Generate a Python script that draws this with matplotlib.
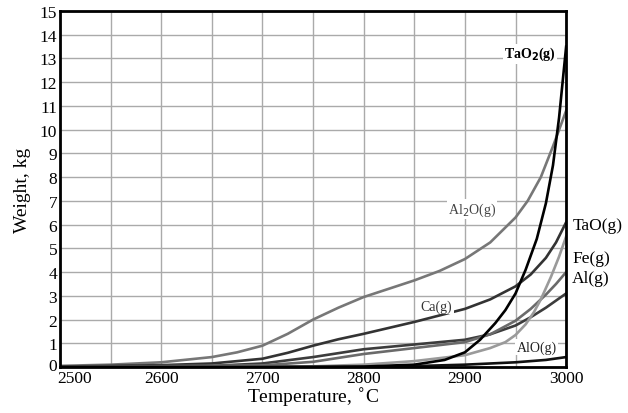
import numpy as np
import matplotlib.pyplot as plt
import matplotlib.transforms as mtransforms

plt.rcParams['font.family'] = 'Liberation Serif'

# temperatures, degC
t_tao2 = [2500, 2700, 2800, 2850, 2880, 2900, 2915, 2930, 2940, 2950, 2960, 2971, 2980, 2987, 2993, 3000]
w_tao2 = [0.0, 0.0, 0.02, 0.1, 0.3, 0.62, 1.15, 1.85, 2.4, 3.1, 4.1, 5.4, 6.9, 8.5, 10.5, 13.5]

t_al2o = [2500, 2550, 2600, 2650, 2675, 2700, 2725, 2750, 2775, 2800, 2825, 2850, 2875, 2900, 2925, 2950, 2962, 2975, 2987, 3000]
w_al2o = [0.05, 0.1, 0.2, 0.42, 0.62, 0.9, 1.4, 2.0, 2.5, 2.95, 3.3, 3.65, 4.05, 4.55, 5.25, 6.3, 7.0, 8.0, 9.3, 10.8]

t_ca = [2500, 2600, 2650, 2700, 2725, 2750, 2775, 2800, 2850, 2900, 2925, 2950, 2965, 2980, 2990, 3000]
w_ca = [0.02, 0.08, 0.15, 0.35, 0.6, 0.9, 1.17, 1.4, 1.9, 2.45, 2.85, 3.4, 3.9, 4.6, 5.25, 6.1]

t_a = [2500, 2650, 2700, 2750, 2800, 2850, 2900, 2925, 2950, 2965, 2980, 2990, 3000]
w_a = [0.01, 0.05, 0.15, 0.42, 0.75, 0.95, 1.15, 1.38, 1.75, 2.1, 2.5, 2.8, 3.1]

t_b = [2500, 2700, 2750, 2800, 2850, 2900, 2925, 2950, 2965, 2980, 2990, 3000]
w_b = [0.01, 0.07, 0.22, 0.55, 0.8, 1.05, 1.38, 1.95, 2.45, 3.05, 3.5, 4.0]

t_fe = [2500, 2750, 2800, 2850, 2900, 2925, 2940, 2950, 2960, 2968, 2975, 2985, 2993, 3000]
w_fe = [0.0, 0.03, 0.1, 0.25, 0.5, 0.8, 1.05, 1.35, 1.8, 2.3, 2.85, 3.8, 4.65, 5.5]

t_alo = [2500, 2800, 2850, 2900, 2950, 2980, 3000]
w_alo = [0.0, 0.0, 0.04, 0.1, 0.2, 0.3, 0.42]

fig = plt.figure(figsize=(6.28, 4.14), dpi=100)
ax = fig.add_axes([0.0955, 0.111, 0.806, 0.86])

ax.plot(t_al2o, w_al2o, color='#777777', lw=1.9)
ax.plot(t_ca, w_ca, color='#333333', lw=1.9)
ax.plot(t_a, w_a, color='#3c3c3c', lw=1.9)
ax.plot(t_b, w_b, color='#6a6a6a', lw=1.9)
ax.plot(t_fe, w_fe, color='#9a9a9a', lw=1.9)
ax.plot(t_alo, w_alo, color='#111111', lw=1.9)
ax.plot(t_tao2, w_tao2, color='#000000', lw=1.9)

ax.set_xlim(2500, 3000)
ax.set_ylim(0, 15)
ax.set_xticks(np.arange(2500, 3001, 50))
ax.set_xticklabels(['2500', '', '2600', '', '2700', '', '2800', '', '2900', '', '3000'])
ax.set_yticks(np.arange(0, 16, 1))
ax.grid(True, color='#aaaaaa', lw=1.0)
ax.tick_params(length=0, labelsize=12.5, pad=2)
for s in ax.spines.values():
    s.set_linewidth(2.0)

# nudge the corner labels apart like in the original
lab0 = ax.get_xticklabels()[0]
lab0.set_transform(lab0.get_transform() + mtransforms.ScaledTranslation(15 / 100, 0, fig.dpi_scale_trans))
ylab0 = ax.get_yticklabels()[0]
ylab0.set_transform(ylab0.get_transform() + mtransforms.ScaledTranslation(0, 3 / 100, fig.dpi_scale_trans))

ax.set_xlabel('Temperature, $^{\\circ}$C', fontsize=14, labelpad=0)
ax.set_ylabel('Weight, kg', fontsize=14, labelpad=6)

box = dict(facecolor='white', edgecolor='none', pad=1)
ax.text(2990, 13.2, 'TaO$_\\mathbf{2}$(g)', fontsize=10, fontweight='bold', ha='right', va='center', bbox=box)
ax.text(2907, 6.65, 'Al$_2$O(g)', fontsize=10, ha='center', va='center', color='#444444', bbox=box)
ax.text(2872, 2.57, 'Ca(g)', fontsize=10, ha='center', va='center', color='#333333', bbox=box)
ax.text(2971, 0.84, 'AlO(g)', fontsize=10, ha='center', va='center', color='#222222', bbox=box)
ax.text(3006, 6.0, 'TaO(g)', fontsize=12.5, ha='left', va='center')
ax.text(3006, 4.6, 'Fe(g)', fontsize=12.5, ha='left', va='center')
ax.text(3006, 3.75, 'Al(g)', fontsize=12.5, ha='left', va='center')

fig.savefig('out.png', dpi=100, facecolor='white')
